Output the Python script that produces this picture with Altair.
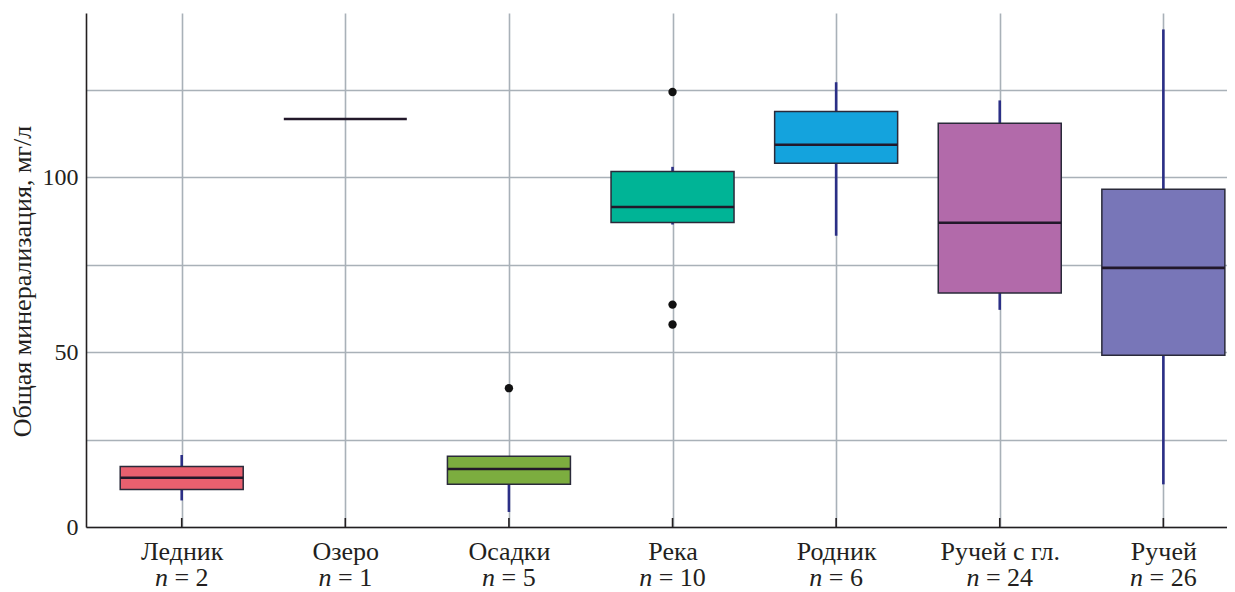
import altair as alt
import pandas as pd

# ---- data ----
categories = ["Ледник", "Озеро", "Осадки", "Река", "Родник", "Ручей с гл.", "Ручей"]
n_counts = [2, 1, 5, 10, 6, 24, 26]
q1 = [10.7, None, 12.2, 87.1, 104.0, 66.9, 49.1]
median = [14.1, 116.7, 16.6, 91.5, 109.3, 87.0, 74.1]
q3 = [17.3, None, 20.2, 101.7, 118.8, 115.5, 96.6]
whisker_low = [7.6, None, 4.3, 86.5, 83.3, 62.1, 12.2]
whisker_high = [20.6, None, 20.2, 103.0, 127.2, 122.0, 142.3]
box_colors = ["#e9606f", "#3d2b48", "#7cad3f", "#00b496", "#14a3dd", "#b26aaa", "#7876b8"]
outlier_cat = ["Осадки", "Река", "Река", "Река"]
outlier_val = [39.7, 124.4, 63.6, 57.9]
y_ticks = [0, 25, 50, 75, 100, 125]

# ---- layout ----
W, H = 1141, 514
FONT = "'Liberation Serif', 'DejaVu Serif', 'Times New Roman', serif"
FS = 26
FSY = 24
X0, X1 = -0.585, 6.389
px_per_unit = W / (X1 - X0)
half_box = 61.5 / px_per_unit

pos = list(range(len(categories)))
df = pd.DataFrame({
    "cat": categories, "pos": pos, "n": n_counts,
    "q1": q1, "median": median, "q3": q3,
    "wl": whisker_low, "wh": whisker_high, "color": box_colors,
})
df["lo"] = df["pos"] - half_box
df["hi"] = df["pos"] + half_box

boxes = df[df["q1"].notna()].copy()

wrows = []
for _, r in boxes.iterrows():
    wrows.append({"pos": r["pos"], "a": r["wl"], "b": r["q1"]})
    if r["wh"] > r["q3"]:
        wrows.append({"pos": r["pos"], "a": r["q3"], "b": r["wh"]})
whisk = pd.DataFrame(wrows)

cat_pos = dict(zip(categories, pos))
out_df = pd.DataFrame({"pos": [cat_pos[c] for c in outlier_cat], "val": outlier_val})

# "n = N" second label line, with italic n
w_n, w_sp, w_eq, w_dig = 0.5 * FS, 0.25 * FS, 0.564 * FS, 0.5 * FS
lab = df[["pos", "n"]].copy()
lab["eq"] = "= " + lab["n"].astype(str)
lab["nt"] = "n"
tot = w_n + w_sp + w_eq + w_sp + w_dig * lab["n"].astype(str).str.len()
lab["anchor"] = lab["pos"] + (-tot / 2 + w_n) / px_per_unit

label_arr = "[" + ",".join('"%s"' % c for c in categories) + "]"

xscale = alt.Scale(domain=[X0, X1], nice=False, zero=False)
yscale = alt.Scale(domain=[0, 147], nice=False, zero=False)

x_axis = alt.Axis(
    values=pos, title=None, labelExpr=label_arr + "[round(datum.value)]",
    grid=True, ticks=False, tickSize=0, labelPadding=32, labelBaseline="alphabetic",
    labelFont=FONT, labelFontSize=FS, labelColor="#231f20",
    domainColor="#231f20", domainWidth=1.6,
    gridColor="#a9b1b8", gridWidth=1.6,
)
y_axis = alt.Axis(
    values=y_ticks, title="Общая минерализация, мг/л",
    labelExpr="datum.value % 50 == 0 ? datum.label : ''",
    grid=True, ticks=False, tickSize=0, labelPadding=8,
    labelFont=FONT, labelFontSize=FSY, labelColor="#231f20",
    titleFont=FONT, titleFontSize=FS, titleFontWeight="normal", titleColor="#231f20",
    titlePadding=7, titleY=268,
    domainColor="#231f20", domainWidth=1.6,
    gridColor="#a9b1b8", gridWidth=1.6,
)


def X(field):
    return alt.X(field + ":Q", scale=xscale, axis=x_axis)


def Y(field):
    return alt.Y(field + ":Q", scale=yscale, axis=y_axis)


whisker_layer = alt.Chart(whisk).mark_rule(color="#2b2f86", strokeWidth=2.6).encode(
    x=X("pos"), y=Y("a"), y2="b"
)

box_layer = alt.Chart(boxes).mark_bar(stroke="#2a2a3a", strokeWidth=1.5).encode(
    x=X("lo"), x2="hi", y=Y("q1"), y2="q3",
    color=alt.Color("color:N", scale=None),
)

median_layer = alt.Chart(df).mark_rule(strokeWidth=2.6).encode(
    x=X("lo"), x2="hi", y=Y("median"),
    color=alt.value("#22182a"),
)

outlier_layer = alt.Chart(out_df).mark_circle(size=70, opacity=1, color="#111111").encode(
    x=X("pos"), y=Y("val")
)

xtick_layer = alt.Chart(df).mark_rule(color="#231f20", strokeWidth=1.6).encode(
    x=X("pos"), y=alt.value(H), y2=alt.value(H - 9)
)

n_layer = alt.Chart(lab).mark_text(
    font=FONT, fontSize=FS, fontStyle="italic", align="right", baseline="alphabetic",
    color="#231f20",
).encode(x=X("anchor"), y=alt.value(H + 59), text="nt:N")

eq_layer = alt.Chart(lab).mark_text(
    font=FONT, fontSize=FS, align="left", baseline="alphabetic", dx=w_sp,
    color="#231f20",
).encode(x=X("anchor"), y=alt.value(H + 59), text="eq:N")

chart = alt.layer(
    whisker_layer, box_layer, median_layer, outlier_layer, xtick_layer, n_layer, eq_layer
).properties(
    width=W, height=H,
    autosize=alt.AutoSizeParams(type="none"),
    padding={"left": 78, "top": 5, "right": 0, "bottom": 65},
    background="white",
).configure_view(strokeWidth=0)

chart.save("out.html", embed_options={"renderer": "svg", "actions": False})
